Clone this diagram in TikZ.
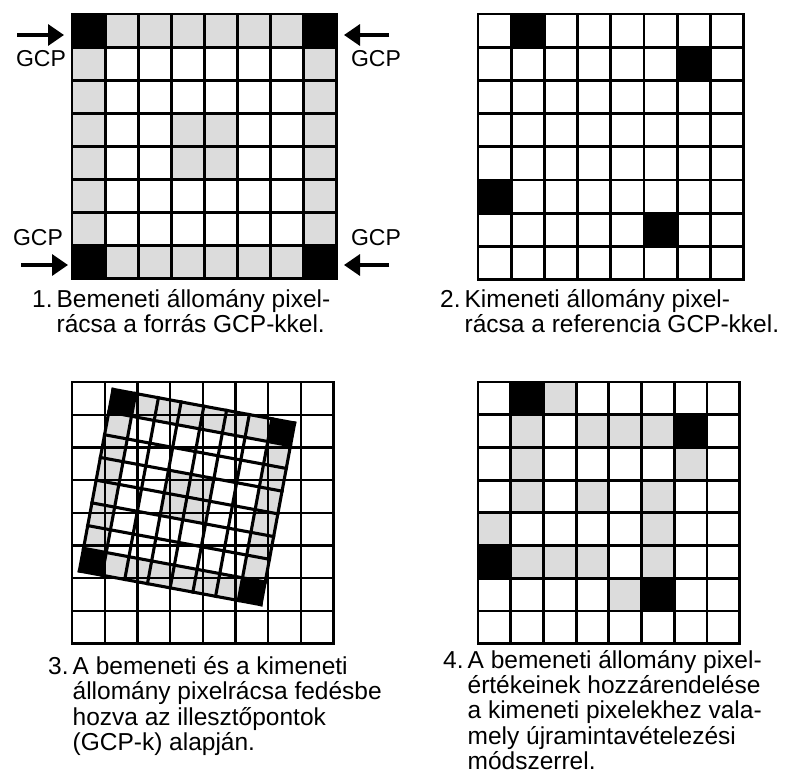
\documentclass[tikz,border=0pt]{standalone}
\usepackage{fontspec}
\setmainfont{Liberation Sans}
\usetikzlibrary{arrows.meta}
\definecolor{cellgrey}{HTML}{DCDCDC}
\newcommand{\pixfill}[5]{% x y cell list style
  \foreach \r/\c in {#4} {\fill[#5] ({#1+\c*#3},{#2+\r*#3}) rectangle +(#3,#3);}}
\newcommand{\pixlines}[4]{% x y cell style
  \foreach \i in {0,...,8} {
    \draw[#4] ({#1+\i*#3},#2) -- ({#1+\i*#3},{#2+8*#3});
    \draw[#4] (#1,{#2+\i*#3}) -- ({#1+8*#3},{#2+\i*#3});}}
\begin{document}
\begin{tikzpicture}[x=1pt,y=-1pt,
  gridline/.style={line width=2.8pt, line cap=rect, black},
  thingrid/.style={line width=2.4pt, line cap=rect, black},
  rotgrid/.style={line width=3.1pt, line cap=rect, black},
  blackcell/.style={fill=black},
  greycell/.style={fill=cellgrey},
  gcparrow/.style={line width=3.4pt, -{Triangle[length=16pt,width=21pt]}},
  gcplabel/.style={font=\fontsize{23}{24}\selectfont, inner sep=0pt, anchor=center},
  captiontext/.style={font=\fontsize{24.5}{24.5}\selectfont, inner sep=0pt, anchor=north west},
]
\useasboundingbox (0,0) rectangle (787,780);
\fill[white] (0,0) rectangle (787,780);

% ---------- grid 1 ----------
\pixfill{72}{14}{33.1}{0/1,0/2,0/3,0/4,0/5,0/6,7/1,7/2,7/3,7/4,7/5,7/6,1/0,2/0,3/0,4/0,5/0,6/0,1/7,2/7,3/7,4/7,5/7,6/7,3/3,3/4,4/3,4/4}{greycell}
\pixfill{72}{14}{33.1}{0/0,0/7,7/0,7/7}{blackcell}
\pixlines{72}{14}{33.1}{gridline}

% GCP arrows and labels
\coordinate (a1s) at (17,35);  \coordinate (a1e) at (64,35);
\coordinate (a2s) at (389,35); \coordinate (a2e) at (344,35);
\coordinate (a3s) at (21,265); \coordinate (a3e) at (68,265);
\coordinate (a4s) at (389,265); \coordinate (a4e) at (344,265);
\draw[gcparrow] (a1s) -- (a1e);
\draw[gcparrow] (a2s) -- (a2e);
\draw[gcparrow] (a3s) -- (a3e);
\draw[gcparrow] (a4s) -- (a4e);
\node[gcplabel] (g1) at (41,59) {GCP};
\node[gcplabel] (g2) at (376,59) {GCP};
\node[gcplabel] (g3) at (38,238) {GCP};
\node[gcplabel] (g4) at (376,238) {GCP};

% ---------- grid 2 ----------
\pixfill{478}{14}{33.2}{0/1,1/6,5/0,6/5}{blackcell}
\pixlines{478}{14}{33.2}{gridline}

% ---------- grid 3 ----------
\begin{scope}[shift={(187,497)}, rotate=-10.5]
  \pixfill{-92.4}{-92.4}{23.1}{0/1,0/2,0/3,0/4,0/5,0/6,7/1,7/2,7/3,7/4,7/5,7/6,1/0,2/0,3/0,4/0,5/0,6/0,1/7,2/7,3/7,4/7,5/7,6/7,3/3,3/4,4/3,4/4}{greycell}
  \pixfill{-92.4}{-92.4}{23.1}{0/0,0/7,7/0,7/7}{blackcell}
\end{scope}
\pixlines{72}{382}{32.7}{thingrid}
\begin{scope}[shift={(187,497)}, rotate=-10.5]
  \pixlines{-92.4}{-92.4}{23.1}{rotgrid}
\end{scope}

% ---------- grid 4 ----------
\pixfill{478}{382}{32.7}{0/2,1/1,1/3,1/4,1/5,2/1,2/6,3/1,3/3,3/5,4/0,4/5,5/1,5/2,5/3,5/5,6/4}{greycell}
\pixfill{478}{382}{32.7}{0/1,1/6,5/0,6/5}{blackcell}
\pixlines{478}{382}{32.7}{gridline}

% ---------- captions ----------
\node[captiontext] (c1) at (32,289) {\begin{tabular}{@{}l@{\hspace{4pt}}l@{}}1.&Bemeneti állomány pixel-\\&rácsa a forrás GCP-kkel.\end{tabular}};
\node[captiontext] (c2) at (440,289) {\begin{tabular}{@{}l@{\hspace{4pt}}l@{}}2.&Kimeneti állomány pixel-\\&rácsa a referencia GCP-kkel.\end{tabular}};
\node[captiontext] (c3) at (48,656) {\begin{tabular}{@{}l@{\hspace{4pt}}l@{}}3.&A bemeneti és a kimeneti\\&állomány pixelrácsa fedésbe\\&hozva az illesztőpontok\\&(GCP-k) alapján.\end{tabular}};
\node[captiontext] (c4) at (443,650) {\begin{tabular}{@{}l@{\hspace{4pt}}l@{}}4.&A bemeneti állomány pixel-\\&értékeinek hozzárendelése\\&a kimeneti pixelekhez vala-\\&mely újramintavételezési\\&módszerrel.\end{tabular}};
\end{tikzpicture}
\end{document}
